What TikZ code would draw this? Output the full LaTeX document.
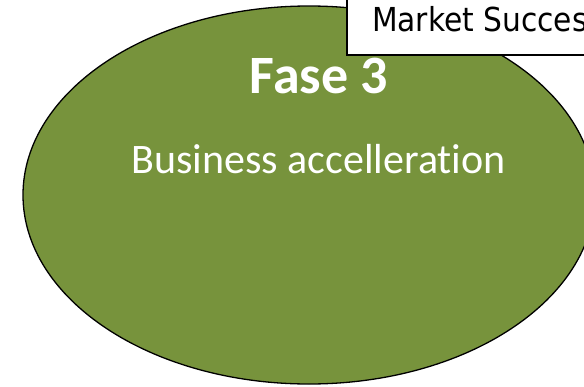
\documentclass[tikz,border=0pt]{standalone}
\usepackage{fontspec}
\setmainfont{Carlito}[Ligatures=NoCommon]
\newfontfamily\marketfont{DejaVu Sans Condensed}
\usetikzlibrary{shapes.geometric}
\definecolor{olivegreen}{HTML}{77933C}
\begin{document}
\begin{tikzpicture}[x=1pt,y=-1pt,
  fasebol/.style={ellipse,draw=black,line width=1.3pt,fill=olivegreen,minimum width=572pt,minimum height=378pt,inner sep=0pt},
  fasetext/.style={text=white,inner sep=0pt,anchor=base},
  labelbox/.style={draw=black,line width=1.6pt,fill=white,anchor=south west,minimum width=300pt,minimum height=120pt,inner sep=0pt}]
\useasboundingbox (0,0) rectangle (584,386);
\clip (0,0) rectangle (584,386);
\node[fasebol] (3) at (309,195) {};
\node[fasetext,font=\fontsize{54}{60}\selectfont\bfseries] (titel) at (319,93) {Fase 3};
\node[fasetext,font=\fontsize{42}{48}\selectfont] (sub) at (318.5,173) {Business accelleration};
% label box at the top right
\node[labelbox] (box) at (346,56) {};
\node[inner sep=0pt,anchor=base west,font=\marketfont\fontsize{33}{38}\selectfont] (market) at (372,31) {Market Succes};
\end{tikzpicture}
\end{document}
